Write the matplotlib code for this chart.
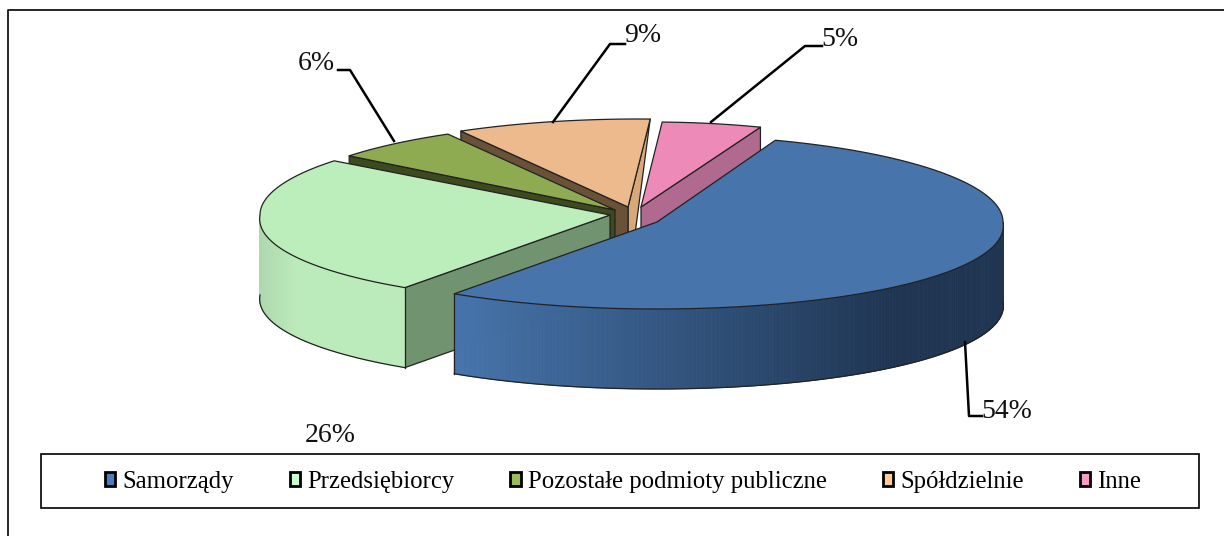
#!/usr/bin/env python3
"""Exploded 3D-looking pie, drawn by hand on a pixel-sized axes."""
import numpy as np
import matplotlib
matplotlib.use("Agg")
import matplotlib.pyplot as plt
from matplotlib.colors import to_rgb
from matplotlib.patches import Patch, Rectangle

categories = ["Samorządy", "Przedsiębiorcy", "Pozostałe podmioty publiczne", "Spółdzielnie", "Inne"]
values = [54, 26, 6, 9, 5]
value_labels = ["54%", "26%", "6%", "9%", "5%"]

legend_colors = ["#4a7ebb", "#ccffcc", "#9bbb59", "#ffcc99", "#ff99cc"]
top_colors = ["#4674ab", "#bbeebb", "#8fab52", "#ecba8c", "#ee8ab8"]
cut_colors = ["#24395a", "#72936f", "#3d4a20", "#6a5238", "#b06a90"]
wall_left = ["#4674ab", "#aed8ae", None, None, None]
wall_right = ["#1f3552", "#bbeabb", None, None, None]
wall_ramp = [1.25, 4.0, None, None, None]

# geometry: apex and centre of the arc for each slice (px), radii of the ellipse
apex = [(657, 222), (610, 215), (615, 210), (628, 207), (641, 207)]
arc_center = [(657, 222), (610, 215), (625, 210), (638, 207), (651, 208)]
radius_x = [346, 350, 350, 350, 320]
radius_y = [87, 88, 88, 88, 86]
depth = 80
start_angle = 70
front_stretch = 0.045

plt.rcParams["font.family"] = ["Liberation Serif", "DejaVu Serif"]

fig = plt.figure(figsize=(12.24, 5.36), dpi=100)
ax = fig.add_axes([0, 0, 1, 1])
ax.set_xlim(0, 1224)
ax.set_ylim(536, 0)
ax.axis("off")


def arc_points(i, a0, a1, n=120):
    t = np.radians(np.linspace(a0, a1, n))
    s = np.sin(t)
    stretch = 1 + front_stretch * np.clip(-s, 0, 1)
    x = arc_center[i][0] + radius_x[i] * np.cos(t) * stretch
    y = arc_center[i][1] - radius_y[i] * s
    return x, y


def draw_face(xs, ys, color, zorder):
    ax.fill(xs, ys, facecolor=color, edgecolor="#222222", linewidth=0.9,
            joinstyle="round", zorder=zorder)


def draw_cut(i, px, py, zorder):
    # flat cut face from the apex out to one end of the arc
    ax_, ay_ = apex[i]
    draw_face([px, ax_, ax_, px], [py, ay_, ay_ + depth, py + depth], cut_colors[i], zorder)


def draw_wall(i, a0, a1, zorder):
    # outer wall, shaded left to right in thin strips
    x, y = arc_points(i, a0, a1, 200)
    c0, c1 = np.array(to_rgb(wall_left[i])), np.array(to_rgb(wall_right[i]))
    for k in range(len(x) - 1):
        f = np.clip((x[k] - x.min()) / (x.max() - x.min()) * wall_ramp[i], 0, 1)
        col = c0 + (c1 - c0) * f
        ax.fill([x[k], x[k + 1], x[k + 1], x[k]],
                [y[k], y[k + 1], y[k + 1] + depth, y[k] + depth],
                facecolor=col, edgecolor=col, linewidth=0.6, zorder=zorder)
    ax.plot(x, y + depth, color="#222222", linewidth=0.9, zorder=zorder)
    ax.plot([x[0], x[0]], [y[0], y[0] + depth], color="#222222", linewidth=0.9, zorder=zorder)


# slice angles, clockwise from the start angle
sweeps = np.array(values) / sum(values) * 360
ends = start_angle - np.cumsum(sweeps)
starts = ends + sweeps

# painter's order: back slices first
z = 2
for i in [3, 4, 2, 1, 0]:
    a0, a1 = starts[i], ends[i]
    x, y = arc_points(i, a0, a1)
    ax_, ay_ = apex[i]

    if i == 3:
        # right edge, seen almost end on: narrows to a point at the outer corner
        draw_face([x[-1], ax_, ax_], [y[-1], ay_, ay_ + depth], "#d8a878", z)
        z += 1
    if i in (2, 3):
        draw_cut(i, x[0], y[0], z)
    if i == 1:
        draw_cut(i, x[0], y[0], z)
        draw_wall(i, a0, -180, z)
    if i == 4:
        draw_cut(i, x[-1], y[-1], z)
    if i == 0:
        draw_wall(i, max(a1, -180), 0, z)
    z += 1
    draw_face(np.r_[ax_, x], np.r_[ay_, y], top_colors[i], z)
    z += 1

# leader lines
leaders = {
    0: ([965, 969, 982], [342, 416, 416]),
    2: ([394, 350, 338], [141, 70, 70]),
    3: ([553, 610, 625], [122, 44, 44]),
    4: ([711, 805, 822], [122, 46, 46]),
}
for i, (lx, ly) in leaders.items():
    ax.plot(lx, ly, color="black", linewidth=1.8, zorder=z)

label_pos = [(1007, 411), (330, 436), (316, 63), (643, 35), (840, 40)]
for txt, (tx, ty) in zip(value_labels, label_pos):
    ax.text(tx, ty, txt, ha="center", va="center", fontsize=20, color="#111111", zorder=z)

# frame around the chart: only left and top
ax.plot([8, 8, 1224], [536, 10, 10], color="black", linewidth=1.2, zorder=1)

# legend box is wider than its entries
ax.add_patch(Rectangle((41, 454), 1158, 54, facecolor="white", edgecolor="black",
                       linewidth=1.2, zorder=z))
handles = [Patch(facecolor=c, edgecolor="black", linewidth=2) for c in legend_colors]
leg = ax.legend(handles, categories, ncol=5, loc="center", frameon=False, fontsize=17.8,
                bbox_to_anchor=(623 / 1224, 1 - 482 / 536),
                handlelength=0.42, handleheight=0.5, handletextpad=0.3,
                columnspacing=2.25, borderpad=0, borderaxespad=0)
leg.set_zorder(z + 1)

fig.savefig("out.png", dpi=100)
